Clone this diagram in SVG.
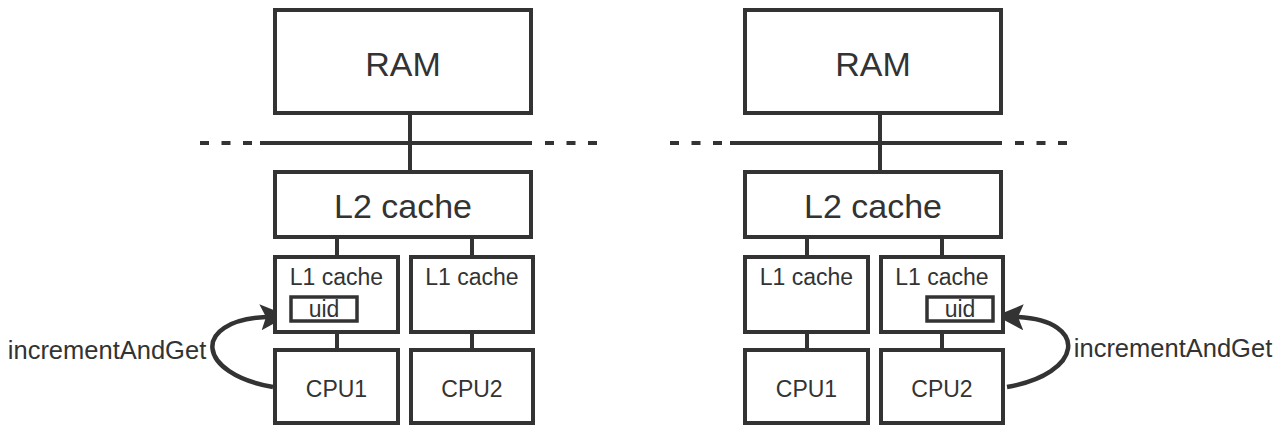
<svg xmlns="http://www.w3.org/2000/svg" width="1280" height="433" viewBox="0 0 1280 433">
  <style>
    .box { fill: #ffffff; stroke: #333333; stroke-width: 4; }
    .var { fill: #ffffff; stroke: #333333; stroke-width: 3.5; }
    .wire { stroke: #333333; stroke-width: 4; fill: none; }
    .dash { stroke: #333333; stroke-width: 4; fill: none; stroke-dasharray: 9 12.5; }
    .call { stroke: #333333; stroke-width: 4.5; fill: none; marker-end: url(#head); }
    text { font-family: "Liberation Sans", Arial, sans-serif; fill: #333333; text-anchor: middle; }
    .big { font-size: 34px; }
    .small { font-size: 23px; }
    .label { font-size: 25.5px; }
  </style>
  <defs>
    <marker id="head" markerUnits="userSpaceOnUse" viewBox="0 0 28 26" markerWidth="28" markerHeight="26" refX="6" refY="13" orient="auto">
      <path d="M0,0 L28,13 L1,26 L6,13 z" fill="#333333"/>
    </marker>
  </defs>

  <!-- bus, links between levels -->
  <g id="connectors">
    <!-- left machine -->
    <line class="dash" x1="200" y1="143" x2="253" y2="143"/>
    <line class="wire" x1="260" y1="143" x2="532" y2="143"/>
    <line class="dash" x1="545" y1="143" x2="598" y2="143"/>
    <line class="wire" x1="410" y1="115" x2="410" y2="170"/>
    <line class="wire" x1="337" y1="239" x2="337" y2="255"/>
    <line class="wire" x1="472" y1="239" x2="472" y2="255"/>
    <line class="wire" x1="337" y1="334" x2="337" y2="348"/>
    <line class="wire" x1="472" y1="334" x2="472" y2="348"/>
    <path class="call" d="M273,387 C197,374 190,321 266,317"/>
    <!-- right machine -->
    <line class="dash" x1="670" y1="143" x2="723" y2="143"/>
    <line class="wire" x1="730" y1="143" x2="1002" y2="143"/>
    <line class="dash" x1="1015" y1="143" x2="1068" y2="143"/>
    <line class="wire" x1="880" y1="115" x2="880" y2="170"/>
    <line class="wire" x1="807" y1="239" x2="807" y2="255"/>
    <line class="wire" x1="942" y1="239" x2="942" y2="255"/>
    <line class="wire" x1="807" y1="334" x2="807" y2="348"/>
    <line class="wire" x1="942" y1="334" x2="942" y2="348"/>
    <path class="call" d="M1007,387 C1083,374 1090,321 1018,317"/>
  </g>

  <!-- left machine -->
  <g id="ram-a"><rect class="box" x="275" y="10" width="256" height="103"/><text class="big" x="403" y="76">RAM</text></g>
  <g id="l2-a"><rect class="box" x="275" y="172" width="256" height="65"/><text class="big" x="403" y="218">L2 cache</text></g>
  <g id="l1-a1"><rect class="box" x="275" y="257" width="123" height="75"/><text class="small" x="336.5" y="285">L1 cache</text></g>
  <g id="uid-a"><rect class="var" x="291" y="297" width="66" height="24"/><text class="small" x="324" y="317">uid</text></g>
  <g id="l1-a2"><rect class="box" x="411" y="257" width="122" height="75"/><text class="small" x="472" y="285">L1 cache</text></g>
  <g id="cpu-a1"><rect class="box" x="275" y="350" width="123" height="73"/><text class="small" x="336.5" y="397">CPU1</text></g>
  <g id="cpu-a2"><rect class="box" x="411" y="350" width="122" height="73"/><text class="small" x="472" y="397">CPU2</text></g>
  <g id="op-a"><text class="label" x="107" y="359">incrementAndGet</text></g>

  <!-- right machine -->
  <g id="ram-b"><rect class="box" x="745" y="10" width="256" height="103"/><text class="big" x="873" y="76">RAM</text></g>
  <g id="l2-b"><rect class="box" x="745" y="172" width="256" height="65"/><text class="big" x="873" y="218">L2 cache</text></g>
  <g id="l1-b1"><rect class="box" x="745" y="257" width="123" height="75"/><text class="small" x="806.5" y="285">L1 cache</text></g>
  <g id="l1-b2"><rect class="box" x="881" y="257" width="122" height="75"/><text class="small" x="942" y="285">L1 cache</text></g>
  <g id="uid-b"><rect class="var" x="927" y="297" width="66" height="24"/><text class="small" x="960" y="317">uid</text></g>
  <g id="cpu-b1"><rect class="box" x="745" y="350" width="123" height="73"/><text class="small" x="806.5" y="397">CPU1</text></g>
  <g id="cpu-b2"><rect class="box" x="881" y="350" width="122" height="73"/><text class="small" x="942" y="397">CPU2</text></g>
  <g id="op-b"><text class="label" x="1173" y="357">incrementAndGet</text></g>
</svg>
